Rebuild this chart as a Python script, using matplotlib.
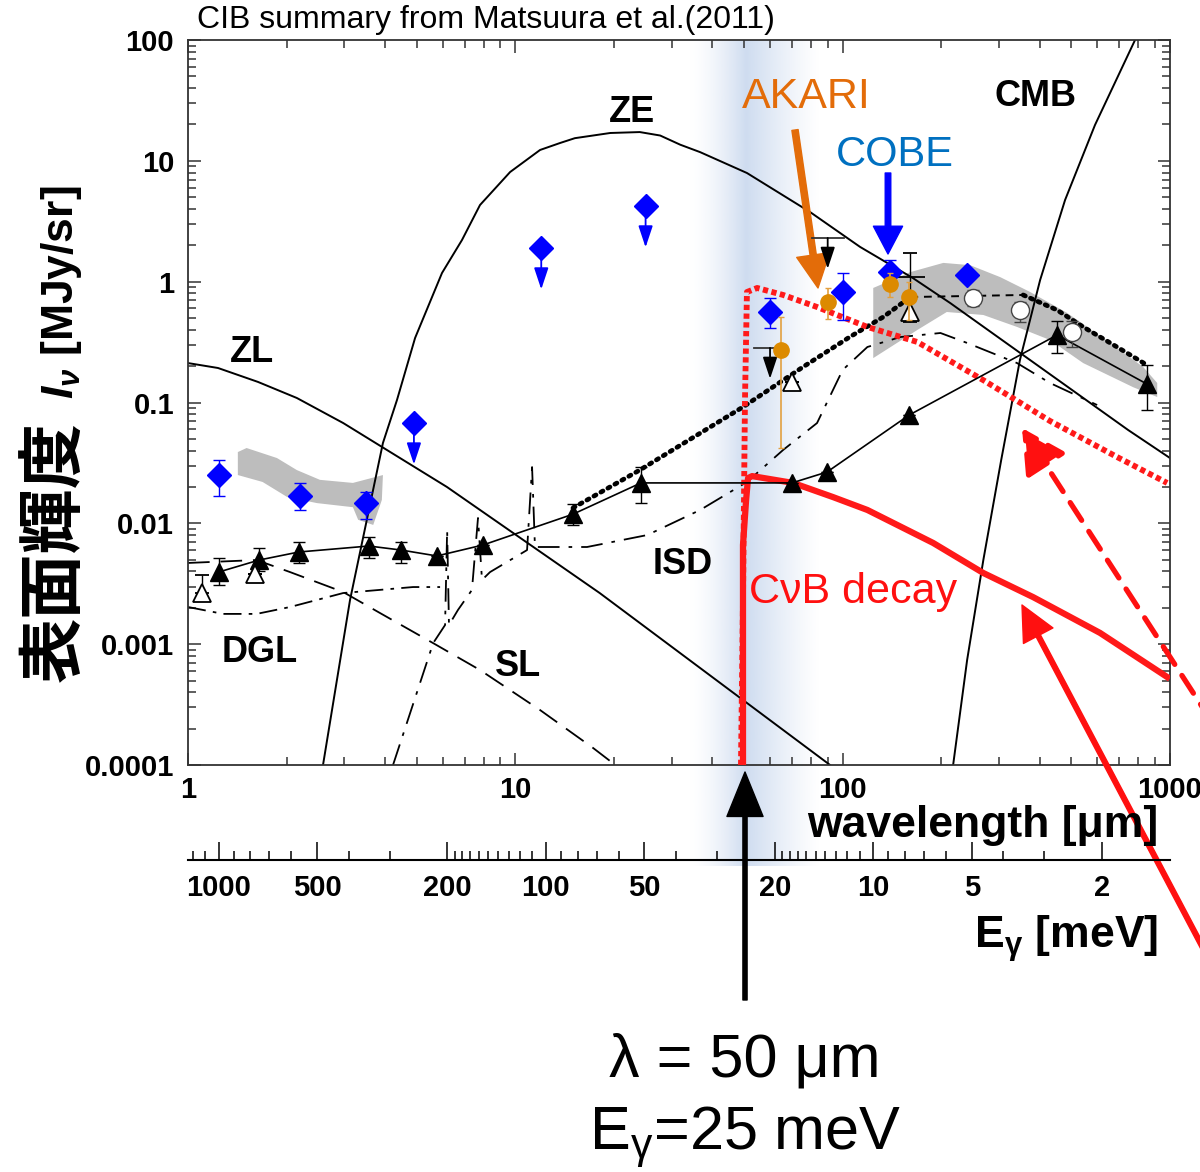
import numpy as np
import matplotlib
matplotlib.use("Agg")
from matplotlib import pyplot as plt
from matplotlib.ticker import FixedLocator, FixedFormatter, LogLocator, NullFormatter

# ---- values (wavelength in um, I in MJy/sr) ----
zl_wl = [1, 1.235, 1.636, 2.15, 2.98, 6.18, 9.85, 18.1, 91.5]
zl_i = [0.212, 0.193, 0.148, 0.109, 0.0676, 0.0200, 0.00832, 0.00265, 1e-4]

ze_wl = [2.585, 3.126, 3.94, 4.35, 4.94, 5.97, 6.87, 7.80, 9.64, 11.9, 13.7, 15.2, 19.5, 24.0, 27.7, 31.9,
         36.7, 51.0, 79.5, 113, 164, 213, 745, 1000]
ze_i = [1e-4, 0.00232, 0.0462, 0.105, 0.342, 1.18, 2.21, 4.31, 8.08, 12.3, 14.05, 15.4, 17.0, 17.3, 16.2, 13.6,
        11.8, 7.93, 3.77, 1.94, 1.07, 0.666, 0.0592, 0.0347]

cmb_wl = [217.5, 240, 269, 305, 348, 401, 478, 590, 782]
cmb_i = [1e-4, 7.39e-4, 4.97e-3, 0.0334, 0.225, 1.03, 4.74, 19.8, 100]

dgl_wl = [1, 1.28, 1.62, 2.05, 2.98, 4.87, 5.89]
dgl_i = [0.00203, 0.00178, 0.00178, 0.00203, 0.00265, 0.00297, 0.00297]

sl_wl = [1, 1.62, 2.05, 2.98, 3.86, 5.61, 7.80, 11.9, 17.3, 20.2]
sl_i = [0.0047, 0.00497, 0.00395, 0.0027, 0.00181, 0.00102, 0.000611, 0.000285, 0.000138, 1e-4]

isd_wl = [4.23, 5.61, 6.10, 6.19, 6.27, 6.68, 7.37, 7.69, 7.91, 8.37, 10.86, 11.25, 11.48, 16.56, 25.3, 36.7,
          51.0, 65.8, 83.5, 100, 119, 150, 199, 240, 341, 430, 599]
isd_i = [1e-4, 0.00102, 0.00144, 0.00881, 0.00144, 0.00192, 0.00281, 0.01107, 0.0034, 0.00395, 0.00601, 0.0292,
         0.00637, 0.00637, 0.0080, 0.0129, 0.0220, 0.0405, 0.0676, 0.186, 0.288, 0.348, 0.376, 0.311, 0.212, 0.145, 0.0953]

# filled triangles
tri_wl = [1.24, 1.65, 2.18, 3.57, 4.48, 5.76, 7.97, 15.0, 24.2, 70.0, 89.6, 159.6, 452, 851]
tri_i = [0.00395, 0.00497, 0.00579, 0.00649, 0.00601, 0.00537, 0.00662, 0.0119, 0.0216, 0.0216, 0.0266, 0.0787, 0.362, 0.142]
tri_lo = [0.00309, 0.0040, 0.0047, 0.0052, 0.0047, 0.00537, 0.00662, 0.0097, 0.0147, 0.0216, 0.0266, 0.0787, 0.257, 0.0867]
tri_hi = [0.00516, 0.0062, 0.0070, 0.0077, 0.0070, 0.00537, 0.00662, 0.0145, 0.0292, 0.0216, 0.0266, 0.0787, 0.472, 0.204]

# open triangles
otri_wl = [1.1, 1.6, 70, 161]
otri_i = [0.00265, 0.00381, 0.148, 0.561]
otri_lo = [0.00265, 0.00381, 0.148, 0.464]
otri_hi = [0.00373, 0.00381, 0.148, 1.73]
bar_wl = [161]
bar_i = [1.09]

# open circles
circ_wl = [250, 348, 502]
circ_i = [0.733, 0.582, 0.383]
circ_lo = [0.629, 0.464, 0.288]
circ_hi = [0.853, 0.679, 0.472]

# dotted / dashed model through the points
dot1_wl = [15.0, 24.0, 49.6, 75.7, 105, 133, 161]
dot1_i = [0.0134, 0.0276, 0.0918, 0.197, 0.348, 0.510, 0.746]
dash_wl = [161, 356]
dash_i = [0.746, 0.776]
dot2_wl = [356, 452, 543, 689, 851]
dot2_i = [0.776, 0.582, 0.422, 0.288, 0.204]

# blue diamonds (COBE etc.)
dia_wl = [1.24, 2.2, 3.5, 60, 100, 140, 240]
dia_i = [0.0251, 0.0168, 0.0147, 0.561, 0.821, 1.20, 1.135]
dia_lo = [0.0168, 0.0129, 0.0109, 0.414, 0.482, 1.20, 1.135]
dia_hi = [0.0334, 0.0216, 0.0182, 0.733, 1.18, 1.51, 1.135]
ul_wl = [4.9, 12, 25]
ul_i = [0.0676, 1.90, 4.23]

# AKARI
ak_wl = [65, 90, 140, 160]
ak_i = [0.272, 0.679, 0.957, 0.746]
ak_lo = [0.042, 0.491, 0.746, 0.482]
ak_hi = [0.510, 0.887, 1.18, 0.993]

# black upper limits
bul_wl = [60, 90]
bul_i = [0.283, 2.30]

# grey bands
nir_wl = [1.42, 1.51, 1.87, 2.15, 2.53, 3.19, 3.94, 3.91, 3.68, 3.31, 3.19, 2.48, 2.01, 1.69, 1.42]
nir_i = [0.0389, 0.0420, 0.0347, 0.0276, 0.0229, 0.0216, 0.0251, 0.0156, 0.0097, 0.0107, 0.0136, 0.0147, 0.0165, 0.0220, 0.0251]
fir_wl = [124, 161, 203, 245, 303, 374, 485, 656, 828, 914, 914, 771, 543, 430, 341, 269, 208, 169, 124]
fir_i = [0.887, 1.20, 1.43, 1.37, 1.09, 0.821, 0.551, 0.311, 0.197, 0.145, 0.111, 0.134, 0.212, 0.329, 0.422, 0.530, 0.561, 0.398, 0.233]

# C nu B decay curves
cnb_wl = [49.6, 49.6, 50.7, 51.4, 52.9, 70.5, 93.4, 119, 189, 269, 382, 611, 980]
cnb_i = [1e-4, 0.00662, 0.0156, 0.0237, 0.0246, 0.0216, 0.0165, 0.0129, 0.00688, 0.00388, 0.00245, 0.00124, 0.000535]
cnb2_wl = [48.9, 49.6, 50.3, 51.0, 54.8, 65.8, 83.5, 119, 169, 269, 430, 689, 980]
cnb2_i = [1e-4, 0.00232, 0.105, 0.821, 0.887, 0.776, 0.617, 0.422, 0.317, 0.153, 0.0703, 0.0354, 0.0216]

e_ticks = [1000, 500, 200, 100, 50, 20, 10, 5, 2]
e_minor = [1200, 1100, 900, 800, 700, 600, 400, 300, 190, 180, 170, 160, 150, 140, 130, 120, 110,
           90, 80, 70, 60, 40, 30, 19, 18, 17, 16, 15, 14, 13, 12, 11, 9, 8, 7, 6, 4, 3]
hc = 1239.84  # meV um

plt.rcParams["font.family"] = ["Liberation Sans", "DejaVu Sans"]
plt.rcParams["mathtext.fontset"] = "custom"
plt.rcParams["mathtext.rm"] = "Liberation Sans"
plt.rcParams["mathtext.it"] = "Liberation Sans:italic:bold"
plt.rcParams["mathtext.bf"] = "Liberation Sans:bold"

W, H = 1200, 1172
fig = plt.figure(figsize=(W / 100, H / 100), dpi=100)


def fx(px):
    return px / W


def fy(py):
    return 1 - py / H


def P(px, py):
    return (px, H - py)


# blue glow around 50 um
bg = fig.add_axes([fx(688), fy(866), fx(820) - fx(688), fy(40) - fy(866)], zorder=0)
bg.axis("off")
xs = np.linspace(688, 820, 300)
alpha = np.where(xs <= 746, ((xs - 688) / 58.0) ** 1.6, (1 - (xs - 746) / 74.0) ** 1.2)
img = np.zeros((1, len(xs), 4))
img[..., 0] = 0.80
img[..., 1] = 0.855
img[..., 2] = 0.94
img[0, :, 3] = np.clip(alpha, 0, 1) * 0.95
bg.imshow(img, aspect="auto", extent=[0, 1, 0, 1])

ax = fig.add_axes([fx(188), fy(765), 982 / W, 725 / H], zorder=1)
ax.patch.set_alpha(0)
ax.set_xscale("log")
ax.set_yscale("log")
ax.set_xlim(1, 1000)
ax.set_ylim(1e-4, 100)

ax.fill(nir_wl, nir_i, color="#bdbdbd", lw=0, zorder=1)
ax.fill(fir_wl, fir_i, color="#bdbdbd", lw=0, zorder=1)

ax.plot(zl_wl, zl_i, color="k", lw=1.4, zorder=2)
ax.plot(ze_wl, ze_i, color="k", lw=1.4, zorder=2)
ax.plot(cmb_wl, cmb_i, color="k", lw=1.4, zorder=2)
ax.plot(dgl_wl, dgl_i, color="k", lw=1.3, dashes=[10, 4, 2, 4], zorder=2)
ax.plot(sl_wl, sl_i, color="k", lw=1.3, dashes=[12, 6], zorder=2)
ax.plot(isd_wl, isd_i, color="k", lw=1.3, dashes=[12, 5, 2, 5], zorder=2)

ax.plot(dot1_wl, dot1_i, color="k", lw=3.4, ls=(0, (0.5, 1.2)), dash_capstyle="round", zorder=3)
ax.plot(dash_wl, dash_i, color="k", lw=1.4, dashes=[4, 3], zorder=3)
ax.plot(dot2_wl, dot2_i, color="k", lw=3.4, ls=(0, (0.5, 1.2)), dash_capstyle="round", zorder=3)

ax.plot(cnb2_wl, cnb2_i, color="#ff1a1a", lw=4.2, ls=(0, (0.9, 0.6)), zorder=3)
ax.plot(cnb_wl, cnb_i, color="#ff1a1a", lw=4.5, zorder=3)

tri_i_a = np.array(tri_i)
ax.plot(tri_wl, tri_i, color="k", lw=1.2, zorder=4)
ax.errorbar(tri_wl, tri_i, yerr=[tri_i_a - np.array(tri_lo), np.array(tri_hi) - tri_i_a],
            fmt="^", color="k", ms=13, ecolor="k", elinewidth=1, capsize=4, zorder=5)
o_i = np.array(otri_i)
ax.errorbar(otri_wl, otri_i, yerr=[o_i - np.array(otri_lo), np.array(otri_hi) - o_i],
            fmt="^", mfc="white", mec="k", mew=1.3, ms=13, ecolor="k", elinewidth=1, capsize=5, zorder=5)
ax.plot(bar_wl, bar_i, "_", color="k", ms=22, mew=1.3, zorder=5)
c_i = np.array(circ_i)
ax.errorbar(circ_wl, circ_i, yerr=[c_i - np.array(circ_lo), np.array(circ_hi) - c_i],
            fmt="o", mfc="white", mec="#444444", mew=1, ms=13, ecolor="#444444", elinewidth=1, capsize=4, zorder=5)

d_i = np.array(dia_i)
ax.errorbar(dia_wl, dia_i, yerr=[d_i - np.array(dia_lo), np.array(dia_hi) - d_i],
            fmt="D", color="#0000ff", ms=12, ecolor="#0000ff", elinewidth=1, capsize=4, zorder=6)
ax.plot(ul_wl, ul_i, "D", color="#0000ff", ms=12, zorder=6)
for w, v in zip(ul_wl, ul_i):
    ax.annotate("", xy=(w, v / 2.2), xytext=(w, v), zorder=6,
                arrowprops=dict(arrowstyle="-|>,head_length=0.6,head_width=0.2", color="#0000ff", lw=1.3,
                                mutation_scale=22, shrinkA=0, shrinkB=0))

a_i = np.array(ak_i)
ax.errorbar(ak_wl, ak_i, yerr=[a_i - np.array(ak_lo), np.array(ak_hi) - a_i],
            fmt="o", color="#dc8a00", ms=11, ecolor="#e2a040", elinewidth=1.2, capsize=2, zorder=7)

for w, v in zip(bul_wl, bul_i):
    ax.plot([w / 1.12, w * 1.12], [v, v], color="#333333", lw=1.3, zorder=6)
    ax.annotate("", xy=(w, v / 1.8), xytext=(w, v), zorder=6,
                arrowprops=dict(arrowstyle="-|>,head_length=0.6,head_width=0.2", color="k", lw=1.3,
                                mutation_scale=22, shrinkA=0, shrinkB=0))

# axis cosmetics
for s in ax.spines.values():
    s.set_color("#333333")
    s.set_linewidth(1.3)
ax.xaxis.set_major_locator(FixedLocator([1, 10, 100, 1000]))
ax.xaxis.set_major_formatter(FixedFormatter(["1", "10", "100", "1000"]))
ax.xaxis.set_minor_locator(LogLocator(base=10, subs=np.arange(2, 10)))
ax.xaxis.set_minor_formatter(NullFormatter())
ax.yaxis.set_major_locator(FixedLocator([1e-4, 1e-3, 1e-2, 0.1, 1, 10, 100]))
ax.yaxis.set_major_formatter(FixedFormatter(["0.0001", "0.001", "0.01", "0.1", "1", "10", "100"]))
ax.yaxis.set_minor_locator(LogLocator(base=10, subs=np.arange(2, 10)))
ax.yaxis.set_minor_formatter(NullFormatter())
ax.tick_params(which="both", direction="in", top=True, right=True, color="#333333", width=1.1)
ax.tick_params(which="major", length=9)
ax.tick_params(which="minor", length=5.5)
ax.tick_params(axis="x", which="major", pad=8, labelsize=21)
ax.tick_params(axis="y", which="major", pad=10, labelsize=21)
for lab in ax.get_xticklabels() + ax.get_yticklabels():
    lab.set_fontweight("bold")

# energy axis
eax = fig.add_axes([fx(188), fy(860), 982 / W, 0.0001], zorder=1)
eax.patch.set_alpha(0)
for k in ["top", "left", "right"]:
    eax.spines[k].set_visible(False)
eax.spines["bottom"].set_linewidth(1.5)
eax.set_yticks([])
eax.set_xscale("log")
eax.set_xlim(hc, hc / 1000)
eax.xaxis.set_major_locator(FixedLocator(e_ticks))
eax.xaxis.set_major_formatter(FixedFormatter([str(e) for e in e_ticks]))
eax.xaxis.set_minor_locator(FixedLocator(e_minor))
eax.xaxis.set_minor_formatter(NullFormatter())
eax.tick_params(axis="x", which="both", direction="in", width=1.1)
eax.tick_params(axis="x", which="major", length=13, pad=10, labelsize=21)
eax.tick_params(axis="x", which="minor", length=6.5)
for lab in eax.get_xticklabels():
    lab.set_fontweight("bold")

# texts
fig.text(fx(197), fy(20), "CIB summary from Matsuura et al.(2011)", fontsize=23, ha="left", va="center")
for txt, px, py in [("ZE", 632, 113), ("ZL", 252, 353), ("DGL", 260, 653), ("SL", 518, 667),
                    ("ISD", 683, 565), ("CMB", 1036, 97)]:
    fig.text(fx(px), fy(py), txt, fontsize=26, fontweight="bold", ha="center", va="center")
fig.text(fx(806), fy(97), "AKARI", fontsize=31, color="#e36c09", ha="center", va="center")
fig.text(fx(895), fy(155), "COBE", fontsize=30, color="#0070c0", ha="center", va="center")
fig.text(fx(853), fy(592), "CνB decay", fontsize=31, color="#ff1010", ha="center", va="center")
fig.text(fx(1158), fy(825), "wavelength [μm]", fontsize=32, fontweight="bold", ha="right", va="center")
fig.text(fx(1158), fy(948), r"$\mathbf{E}_{\mathbf{\gamma}}$ [meV]", fontsize=32, fontweight="bold",
         ha="right", va="baseline")
fig.text(fx(745), fy(1076), "λ = 50 μm", fontsize=44, ha="center", va="baseline")
fig.text(fx(745), fy(1149), r"E$_{\mathrm{\gamma}}$=25 meV", fontsize=44, ha="center", va="baseline")
fig.text(fx(55), fy(552), "表面輝度", fontsize=47, fontweight="bold", rotation=90, ha="center", va="center",
         family=["Noto Sans CJK JP", "DejaVu Sans"])
fig.text(fx(62), fy(292), r"$I_{\nu}$ [MJy/sr]", fontsize=32, fontweight="bold", rotation=90,
         ha="center", va="center")


# arrows
def arrow(tail, tip, color, style, **kw):
    ax.annotate("", xy=P(*tip), xycoords="figure pixels", xytext=P(*tail), textcoords="figure pixels",
                annotation_clip=False,
                arrowprops=dict(arrowstyle=style, color=color, shrinkA=0, shrinkB=0, **kw))


arrow((745, 1000), (745, 772), "k", "simple,head_length=32,head_width=26,tail_width=3", mutation_scale=1)
arrow((795, 130), (818, 288), "#e36c09", "simple,head_length=24,head_width=24,tail_width=4.5", mutation_scale=1)
arrow((888, 173), (888, 254), "#0000ff", "simple,head_length=20,head_width=21,tail_width=4", mutation_scale=1)
arrow((1212, 965), (1022, 605), "#ff1010", "simple,head_length=25,head_width=24,tail_width=3.4", mutation_scale=1)
arrow((1212, 722), (1022, 428), "#ff1010", "-|>,head_length=0.6,head_width=0.32", lw=3.8, ls=(0, (4, 2.5)),
      mutation_scale=45)

fig.savefig("out.png", dpi=100)
